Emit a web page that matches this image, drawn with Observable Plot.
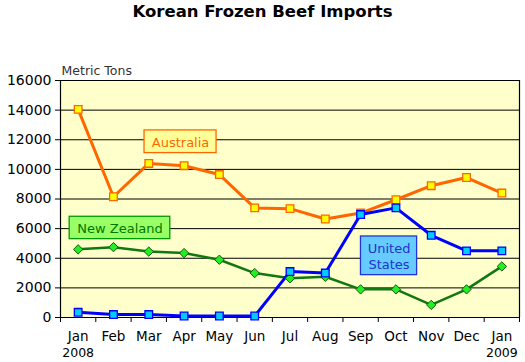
<!DOCTYPE html>
<html>
<head>
<meta charset="utf-8">
<script src="https://cdn.jsdelivr.net/npm/d3@7"></script>
<script src="https://cdn.jsdelivr.net/npm/@observablehq/plot@0.6"></script>
<style>
  html, body { margin: 0; padding: 0; background: white; }
  #title { height: 28px; width: 525px; text-align: center; font: bold 16.5px "DejaVu Sans", sans-serif; line-height: 24px; color: #000; }
  #chart svg { display: block; }
</style>
</head>
<body>
<div id="title">Korean Frozen Beef Imports</div>
<div id="chart"></div>
<script>
const months = ["Jan","Feb","Mar","Apr","May","Jun","Jul","Aug","Sep","Oct","Nov","Dec","Jan"];
const years = ["2008","","","","","","","","","","","","2009"];
const australia = [14050, 8150, 10400, 10250, 9650, 7400, 7350, 6650, 7050, 7950, 8900, 9450, 8400];
const newZealand = [4600, 4750, 4450, 4350, 3900, 3000, 2650, 2750, 1900, 1900, 850, 1900, 3450];
const unitedStates = [350, 200, 200, 100, 100, 100, 3100, 3000, 6950, 7400, 5550, 4500, 4500];
const yTicks = [0, 2000, 4000, 6000, 8000, 10000, 12000, 14000, 16000];

const idx = months.map((_, i) => i);
const seriesData = (vals) => vals.map((v, i) => ({i, v}));
const aus = seriesData(australia);
const nz = seriesData(newZealand);
const us = seriesData(unitedStates);

const labels = [
  {text: "Australia", x1: 1.88, x2: 3.92, y1: 11100, y2: 12630, fill: "#FFFF99", stroke: "#FF6600", color: "#FF6600"},
  {text: "New Zealand", x1: -0.24, x2: 2.61, y1: 5290, y2: 6800, fill: "#99FF66", stroke: "#009900", color: "#007700"},
  {text: "United\nStates", x1: 8.01, x2: 9.6, y1: 2860, y2: 5470, fill: "#66CCFF", stroke: "#2233DD", color: "#2233CC"}
];

const chart = Plot.plot({
  width: 525,
  height: 334,
  marginTop: 52,
  marginLeft: 60,
  marginRight: 6,
  marginBottom: 45,
  style: {fontFamily: "DejaVu Sans, sans-serif", fontSize: "14px", color: "#000", background: "white"},
  x: {type: "linear", domain: [-0.5, 12.5]},
  y: {domain: [0, 16000]},
  marks: [
    Plot.frame({fill: "#FFFFCC", stroke: null}),
    Plot.ruleY(yTicks, {stroke: "#000", strokeWidth: 1}),
    Plot.ruleX([-0.5, 12.5], {stroke: "#000", strokeWidth: 1.2}),
    Plot.axisY({ticks: yTicks, tickSize: 5, tickPadding: 4, label: null, tickFormat: d => String(d), fontSize: 14, stroke: "#000"}),
    Plot.axisX({ticks: d3.range(-0.5, 13, 1), tickSize: 5, tickFormat: () => "", label: null, stroke: "#000"}),
    Plot.text(idx, {x: d => d, y: 0, text: d => months[d], dy: 19.5, fontSize: 13.5, fill: "#000"}),
    Plot.text(idx, {x: d => d, y: 0, text: d => years[d], dy: 35, fontSize: 12.5, fill: "#000"}),
    Plot.text(["Metric Tons"], {frameAnchor: "top-left", dx: 1, dy: -14, fontSize: 12.5, fill: "#333"}),
    // series
    Plot.line(aus, {x: "i", y: "v", stroke: "#FF6600", strokeWidth: 3}),
    Plot.line(nz, {x: "i", y: "v", stroke: "#117711", strokeWidth: 2.5}),
    Plot.line(us, {x: "i", y: "v", stroke: "#0000FF", strokeWidth: 3}),
    Plot.dot(aus, {x: "i", y: "v", symbol: "square", r: 4.3, fill: "#FFFF00", stroke: "#FF6600", strokeWidth: 1.3}),
    Plot.dot(nz, {x: "i", y: "v", symbol: "diamond2", r: 4.2, fill: "#22EE22", stroke: "#115511", strokeWidth: 1}),
    Plot.dot(us, {x: "i", y: "v", symbol: "square", r: 4.3, fill: "#00CCFF", stroke: "#0000FF", strokeWidth: 1.3}),
    // annotation boxes
    Plot.rect(labels, {x1: "x1", x2: "x2", y1: "y1", y2: "y2", fill: d => d.fill, stroke: d => d.stroke, strokeWidth: 1.3}),
    Plot.text(labels, {x: d => (d.x1 + d.x2) / 2, y: d => (d.y1 + d.y2) / 2, text: "text", fill: d => d.color, fontSize: 13, lineHeight: 1.25})
  ]
});
document.getElementById("chart").appendChild(chart);
</script>
</body>
</html>
